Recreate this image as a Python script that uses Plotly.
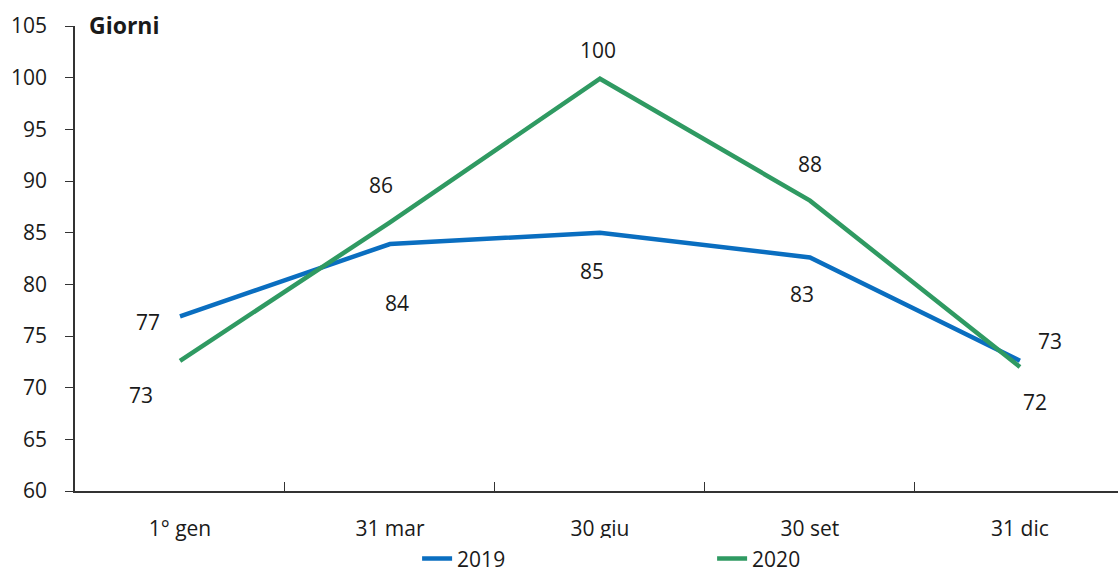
import plotly.graph_objects as go

# Giorni per periodo di rilevazione
categories = ["1° gen", "31 mar", "30 giu", "30 set", "31 dic"]
values_2019 = [76.9, 83.9, 85.0, 82.6, 72.6]
values_2020 = [72.6, 86.0, 99.9, 88.1, 72.0]
y_ticks = [60, 65, 70, 75, 80, 85, 90, 95, 100, 105]

# pixel offsets of the value labels (x, y) relative to each point
offsets_2019 = [(-32, -6), (7, -59), (-8, -38), (-8, -37), (30, 20)]
offsets_2020 = [(-39, -34), (-9, 37), (-2, 29), (0, 37), (15, -35)]

BLUE = "#0a6ec0"
GREEN = "#2f9a62"
TEXT = "#1a1a1a"
AXIS = "#333333"
FONT = "Open Sans"
FS = 21

fig = go.Figure()
fig.add_trace(go.Scatter(x=categories, y=values_2019, name="2019", mode="lines",
                         line=dict(color=BLUE, width=4.5)))
fig.add_trace(go.Scatter(x=categories, y=values_2020, name="2020", mode="lines",
                         line=dict(color=GREEN, width=4.5)))

annotations = []
for vals, offs in ((values_2019, offsets_2019), (values_2020, offsets_2020)):
    for cat, v, (dx, dy) in zip(categories, vals, offs):
        annotations.append(dict(x=cat, y=v, text=f"{round(v):d}", showarrow=False,
                                xshift=dx, yshift=dy,
                                font=dict(family=FONT, size=FS, color=TEXT)))

annotations.append(dict(xref="paper", yref="paper", x=0.0115, y=1.002,
                        xanchor="left", yanchor="middle", showarrow=False,
                        text="<b>Giorni</b>",
                        font=dict(family=FONT, size=23, color=TEXT)))

fig.update_layout(
    width=1118, height=574,
    margin=dict(l=75, r=0, t=26, b=83, autoexpand=False),
    paper_bgcolor="white", plot_bgcolor="white",
    font=dict(family=FONT, size=FS, color=TEXT),
    annotations=annotations,
    showlegend=True,
    legend=dict(orientation="h", x=0.328, y=-0.146, xanchor="left", yanchor="middle",
                entrywidth=250, entrywidthmode="pixels",
                font=dict(family=FONT, size=FS, color=TEXT),
                itemclick=False, itemdoubleclick=False),
    xaxis=dict(type="category", range=[-0.5, 4.467], showgrid=False,
               showline=True, linecolor=AXIS, linewidth=1.5,
               ticks="inside", ticklen=9, tickcolor=AXIS, tickwidth=1.2,
               tickson="boundaries", ticklabelstandoff=18,
               tickfont=dict(family=FONT, size=FS, color=TEXT), zeroline=False),
    yaxis=dict(range=[60, 105], tickvals=y_ticks, showgrid=False,
               showline=True, linecolor=AXIS, linewidth=1.5,
               ticks="outside", ticklen=8, tickcolor=AXIS, tickwidth=1.2,
               ticklabelstandoff=14,
               tickfont=dict(family=FONT, size=FS, color=TEXT), zeroline=False),
)

fig.write_html("out.html")
